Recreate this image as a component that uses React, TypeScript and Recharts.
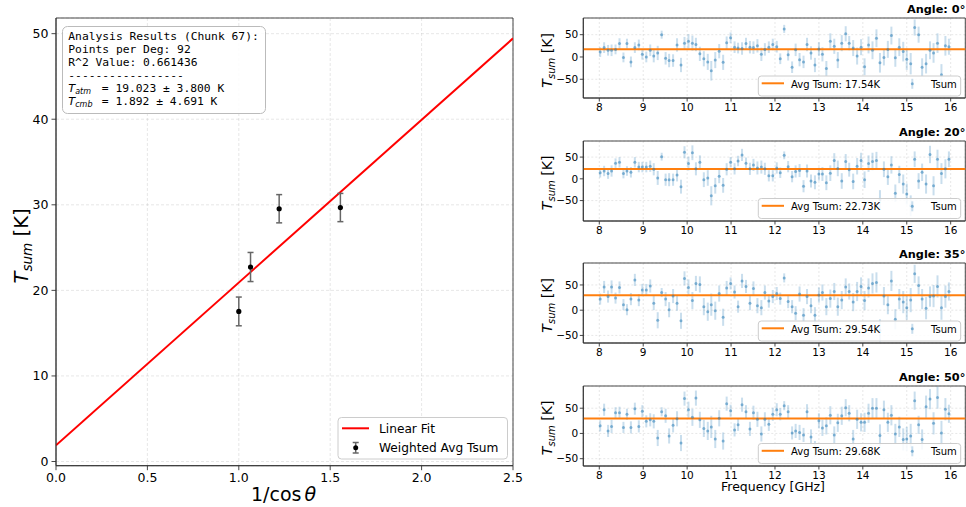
import React from 'react';
import {
  ComposedChart,
  Scatter,
  Line,
  XAxis,
  YAxis,
  CartesianGrid,
  ErrorBar,
  ReferenceLine,
  ReferenceArea,
} from 'recharts';

const FONT = '"DejaVu Sans", sans-serif';
const MONO = '"DejaVu Sans Mono", monospace';

// ---------- Main plot data ----------
const angleTitles = ['Angle: 0°', 'Angle: 20°', 'Angle: 35°', 'Angle: 50°'];
const secTheta = [1.0, 1.0642, 1.2208, 1.5557];
const avgTsum = [17.54, 22.73, 29.54, 29.68];
const avgTsumErr = [1.68, 1.7, 1.65, 1.65];
const fitSlope = 19.023;
const fitIntercept = 1.892;
const fitX = [0, 2.5];
const mainXTicks = [0, 0.5, 1, 1.5, 2, 2.5];
const mainYTicks = [0, 10, 20, 30, 40, 50];
const infoLines = ['Analysis Results (Chunk 67):', 'Points per Deg: 92', 'R^2 Value: 0.661436', '-----------------'];
const tAtmText = ' = 19.023 ± 3.800 K';
const tCmbText = ' = 1.892 ± 4.691 K';

// ---------- Per-angle spectra ----------
const freqGHz = [
  8.02, 8.11, 8.2, 8.28, 8.37, 8.46, 8.55, 8.63, 8.72, 8.81,
  8.9, 8.98, 9.07, 9.16, 9.24, 9.33, 9.42, 9.51, 9.59, 9.68,
  9.77, 9.86, 9.94, 10.03, 10.12, 10.2, 10.29, 10.38, 10.47, 10.55,
  10.64, 10.73, 10.82, 10.9, 10.99, 11.08, 11.16, 11.25, 11.34, 11.43,
  11.51, 11.6, 11.69, 11.77, 11.86, 11.95, 12.04, 12.12, 12.21, 12.3,
  12.39, 12.47, 12.56, 12.65, 12.73, 12.82, 12.91, 13.0, 13.08, 13.17,
  13.26, 13.35, 13.43, 13.52, 13.61, 13.69, 13.78, 13.87, 13.96, 14.04,
  14.13, 14.22, 14.31, 14.39, 14.48, 14.57, 14.65, 14.74, 14.83, 14.92,
  15.0, 15.09, 15.18, 15.27, 15.35, 15.44, 15.53, 15.61, 15.7, 15.79, 15.88, 15.96,
];

const tsum0 = [
  11, 21, 15, 15, 17, 30, -1, 30, -11, 21,
  27, 6, 0, 15, 2, 9, 50, -3, -8, -8,
  27, -18, 31, 35, 31, 28, 7, -4, -11, -31,
  -7, 13, -12, 32, 43, 22, 20, 19, 30, 22,
  21, 25, 6, 17, 22, 28, 23, -4, 63, 5,
  -23, 16, -6, -11, 28, 9, -18, 18, 6, -26,
  35, 24, -7, 31, 52, 31, 20, 2, 22, -22,
  27, 15, 42, -13, -1, 17, 48, -2, 22, 12,
  -5, -15, 66, 50, -23, -15, 15, 9, 31, -40, 25, 23,
];
const tsum20 = [
  14, 18, 12, 18, 36, 38, 12, 18, 15, 38,
  27, 27, 27, 29, 22, 2, 51, -2, -2, -2,
  9, -18, 61, 35, 60, 23, 38, -2, 2, -39,
  -16, 6, -15, 22, 38, 23, 41, 55, 36, 23,
  32, 25, 27, 23, 7, 7, 25, 14, 54, 28,
  5, 17, 19, -17, 18, -5, -8, 11, 11, -9,
  13, 42, 24, -5, 40, 21, -6, 29, 42, -2,
  35, 40, 42, -48, 22, 5, 32, -33, 10, -12,
  -35, -62, 45, -5, 15, -12, 56, -16, 45, 12, 23, 45,
];
const tsum35 = [
  22, 46, 27, 46, 24, 45, 11, 1, 22, 60,
  20, 40, 40, 48, 14, -20, 35, 22, 1, 28,
  14, -21, 63, 45, 19, 53, 51, 7, -3, 11,
  -1, 33, -14, 44, 53, 36, 7, 58, 47, 14,
  43, 9, 5, 35, 18, 27, 33, 23, 64, 17,
  7, -6, 32, -10, 27, 9, -10, 30, 35, 7,
  23, 37, 7, 20, 46, 37, 16, 37, 47, 19,
  44, 53, 55, -40, 28, 11, 58, -18, 22, 16,
  5, 20, 72, 49, 22, 4, 27, 28, 47, 5, 27, 37,
];
const tsum50 = [
  15, 47, 5, 14, 41, 41, 12, 38, 12, 49,
  14, 44, 24, 27, 24, -9, 43, 35, -5, 16,
  29, -19, 69, 47, 32, 70, 27, 10, 5, 13,
  -11, 30, -15, 59, 45, 7, 17, 57, 43, 9,
  41, 28, -1, 28, 18, 38, 47, 38, 55, 43,
  1, 5, 2, -3, 43, -7, -31, 25, 11, 15,
  36, -3, 21, 35, 51, 40, -11, 28, 22, 22,
  40, 50, 50, -4, 47, 22, 36, -1, 13, -12,
  -11, -5, 65, 17, -12, 53, 68, 20, 71, 1, 48, 39,
];
const tsumErr = [
  11, 12, 12, 13, 11, 12, 11, 11, 12, 12,
  12, 12, 12, 13, 14, 16, 9, 14, 15, 14,
  15, 16, 14, 16, 17, 15, 16, 17, 18, 22,
  18, 16, 17, 14, 12, 13, 12, 14, 13, 14,
  14, 15, 15, 14, 13, 13, 13, 12, 9, 13,
  13, 14, 15, 14, 15, 15, 16, 15, 16, 17,
  18, 17, 18, 18, 17, 16, 18, 19, 18, 19,
  19, 20, 20, 22, 18, 19, 20, 20, 20, 22,
  24, 24, 18, 18, 20, 22, 20, 22, 22, 24, 22, 18,
];
const panelSeries = [tsum0, tsum20, tsum35, tsum50];
const freqTicks = [8, 9, 10, 11, 12, 13, 14, 15, 16];
const panelYTicks = [-50, 0, 50];

// ---------- layout ----------
const panelTops = [18.3, 140.8, 263.3, 385.8];
const panelH = 80;
const panelYDomains: [number, number][] = [
  [-92, 87.4],
  [-97, 87],
  [-65, 93.5],
  [-64.5, 94],
];
const panelXDomain: [number, number] = [7.636, 16.333];
const SPINE = '#333';

const fmtMinus = (v: number) => (v < 0 ? '\u2212' + Math.abs(v) : String(v));

function MainChart() {
  const pts = secTheta.map((x, i) => ({ x, y: avgTsum[i], e: avgTsumErr[i] }));
  const fit = fitX.map((x) => ({ x, y: fitIntercept + fitSlope * x }));
  const tickStyle = { fontSize: 12.5, fill: '#000', fontFamily: FONT };
  return (
    <div style={{ position: 'absolute', left: 0, top: 0 }}>
      <ComposedChart width={530} height={507} margin={{ top: 18, right: 17, bottom: 11.3, left: 0 }}>
        <CartesianGrid stroke="#b0b0b0" strokeOpacity={0.3} strokeDasharray="3 2" />
        <XAxis
          type="number"
          dataKey="x"
          domain={[0, 2.5]}
          ticks={mainXTicks}
          allowDataOverflow
          height={30}
          tickSize={4.5}
          tickMargin={3}
          tickFormatter={(v: number) => v.toFixed(1)}
          tick={tickStyle}
          stroke={SPINE}
          strokeWidth={0.9}
        />
        <YAxis
          type="number"
          domain={[-0.49, 51.83]}
          ticks={mainYTicks}
          allowDataOverflow
          width={56}
          tickSize={4.5}
          tickMargin={3}
          tick={tickStyle}
          stroke={SPINE}
          strokeWidth={0.9}
        />
        <ReferenceArea x1={0} x2={2.5} y1={-0.49} y2={51.83} fill="none" fillOpacity={0} stroke={SPINE} strokeWidth={0.9} />
        <Line data={fit} dataKey="y" stroke="#ff0000" strokeWidth={2} dot={false} isAnimationActive={false} />
        <Scatter
          data={pts}
          dataKey="y"
          fill="#000"
          isAnimationActive={false}
          shape={(p: any) => <circle cx={p.cx} cy={p.cy} r={2.6} fill="#000" />}
        >
          <ErrorBar dataKey="e" direction="y" width={3} stroke="#666" strokeWidth={1.5} />
        </Scatter>
      </ComposedChart>
    </div>
  );
}

function Panel({ idx }: { idx: number }) {
  const vals = panelSeries[idx];
  const data = freqGHz.map((f, i) => ({ x: f, y: vals[i], e: tsumErr[i] }));
  const dom = panelYDomains[idx];
  const tickStyle = { fontSize: 10.5, fill: '#000', fontFamily: FONT };
  return (
    <div style={{ position: 'absolute', left: 530, top: panelTops[idx] - 5 }}>
      <ComposedChart width={436} height={5 + panelH + 25} margin={{ top: 5, right: 0.7, bottom: 0, left: 0 }}>
        <CartesianGrid stroke="#b0b0b0" strokeOpacity={0.3} strokeDasharray="2 2" />
        <XAxis
          type="number"
          dataKey="x"
          domain={panelXDomain}
          ticks={freqTicks}
          allowDataOverflow
          height={25}
          tickSize={3.5}
          tickMargin={1.7}
          tick={tickStyle}
          stroke={SPINE}
          strokeWidth={0.9}
        />
        <YAxis
          type="number"
          domain={dom}
          ticks={panelYTicks}
          allowDataOverflow
          width={53.3}
          tickSize={3.5}
          tickMargin={1.5}
          tickFormatter={fmtMinus}
          tick={tickStyle}
          stroke={SPINE}
          strokeWidth={0.9}
        />
        <Scatter
          data={data}
          dataKey="y"
          fill="#1f77b4"
          isAnimationActive={false}
          shape={(p: any) => <circle cx={p.cx} cy={p.cy} r={1.5} fill="#1f77b4" fillOpacity={0.5} />}
        >
          <ErrorBar dataKey="e" direction="y" width={0} stroke="rgba(31,119,180,0.24)" strokeWidth={2} />
        </Scatter>
        <ReferenceLine y={avgTsum[idx]} stroke="#ff7f0e" strokeWidth={2} />
        <ReferenceArea
          x1={panelXDomain[0]}
          x2={panelXDomain[1]}
          y1={dom[0]}
          y2={dom[1]}
          fill="none"
          fillOpacity={0}
          stroke={SPINE}
          strokeWidth={0.9}
        />
      </ComposedChart>
    </div>
  );
}

function Overlay() {
  return (
    <svg
      width={966}
      height={507}
      style={{ position: 'absolute', left: 0, top: 0, pointerEvents: 'none', zIndex: 2 }}
      fontFamily={FONT}
    >
      {/* info box */}
      <rect x={62.5} y={26.5} width={203} height={87} rx={5} fill="#fff" fillOpacity={0.85} stroke="#bbb" strokeWidth={1} />
      {infoLines.map((t, i) => (
        <text key={i} x={68.3} y={39.5 + i * 13} fontFamily={MONO} fontSize={11.3} fill="#000" style={{ whiteSpace: 'pre' }}>
          {t}
        </text>
      ))}
      <text x={68.3} y={91.8} fontSize={11.3} fill="#000">
        <tspan fontStyle="italic">T</tspan>
        <tspan fontStyle="italic" fontSize={8} dy={2.5}>atm</tspan>
      </text>
      <text x={95} y={91.8} fontFamily={MONO} fontSize={11.3} fill="#000" style={{ whiteSpace: 'pre' }}>{tAtmText}</text>
      <text x={68.3} y={104.6} fontSize={11.3} fill="#000">
        <tspan fontStyle="italic">T</tspan>
        <tspan fontStyle="italic" fontSize={8} dy={2.5}>cmb</tspan>
      </text>
      <text x={95} y={104.6} fontFamily={MONO} fontSize={11.3} fill="#000" style={{ whiteSpace: 'pre' }}>{tCmbText}</text>

      {/* main legend */}
      <rect x={338} y={417.5} width={169.5} height={41.5} rx={3.5} fill="#fff" fillOpacity={0.85} stroke="#ccc" strokeWidth={1} />
      <line x1={342} x2={369} y1={428.3} y2={428.3} stroke="#ff0000" strokeWidth={2} />
      <text x={379} y={432.6} fontSize={12.2} fill="#000">Linear Fit</text>
      <line x1={355.7} x2={355.7} y1={442.5} y2={453} stroke="#666" strokeWidth={1.5} />
      <line x1={352.7} x2={358.7} y1={442.5} y2={442.5} stroke="#666" strokeWidth={1.5} />
      <line x1={352.7} x2={358.7} y1={453} y2={453} stroke="#666" strokeWidth={1.5} />
      <circle cx={355.7} cy={447.7} r={2.5} fill="#000" />
      <text x={379} y={452} fontSize={12.2} fill="#000">Weighted Avg Tsum</text>

      {/* main axis labels */}
      <text transform="translate(27.5,246) rotate(-90)" textAnchor="middle" fontSize={19.5} fill="#000">
        <tspan fontStyle="italic">T</tspan>
        <tspan fontStyle="italic" fontSize={13.6} dy={4}>sum</tspan>
        <tspan dy={-4}> [K]</tspan>
      </text>
      <text x={283.5} y={501} textAnchor="middle" fontSize={19} fill="#000">
        <tspan>1/cos</tspan>
        <tspan fontStyle="italic" dx={3}>θ</tspan>
      </text>

      {/* panel decorations */}
      {panelTops.map((top, i) => {
        const b = top + panelH;
        return (
          <g key={i}>
            <text x={965.3} y={top - 5} textAnchor="end" fontWeight="bold" fontSize={11.3} fill="#000">
              {angleTitles[i]}
            </text>
            <text transform={`translate(551.5,${top + 42}) rotate(-90)`} textAnchor="middle" fontSize={14.2} fill="#000">
              <tspan fontStyle="italic">T</tspan>
              <tspan fontStyle="italic" fontSize={10} dy={3}>sum</tspan>
              <tspan dy={-3}> [K]</tspan>
            </text>
            <rect x={758.3} y={b - 22.3} width={202.4} height={20} rx={3} fill="#fff" fillOpacity={0.85} stroke="#ccc" strokeWidth={1} />
            <line x1={761.7} x2={784} y1={b - 15} y2={b - 15} stroke="#ff7f0e" strokeWidth={2} />
            <text x={791} y={b - 10.5} fontSize={10} fill="#000">{`Avg Tsum: ${avgTsum[i].toFixed(2)}K`}</text>
            <line x1={912.3} x2={912.3} y1={b - 19.5} y2={b - 9.5} stroke="rgba(31,119,180,0.24)" strokeWidth={2} />
            <circle cx={912.3} cy={b - 14.5} r={1.5} fill="#1f77b4" fillOpacity={0.5} />
            <text x={931} y={b - 10.5} fontSize={10} fill="#000">Tsum</text>
          </g>
        );
      })}
      <text x={773} y={491} textAnchor="middle" fontSize={12.5} fill="#000">Frequency [GHz]</text>
    </svg>
  );
}

export default function App() {
  return (
    <div style={{ position: 'absolute', left: 0, top: 0, width: 966, height: 507, background: '#fff', fontFamily: FONT }}>
      <MainChart />
      {[0, 1, 2, 3].map((i) => (
        <Panel key={i} idx={i} />
      ))}
      <Overlay />
    </div>
  );
}
